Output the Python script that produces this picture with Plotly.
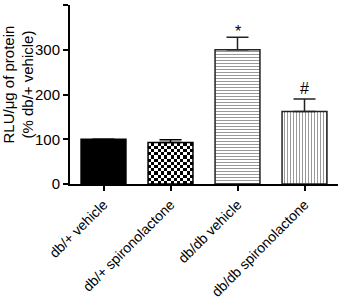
import numpy as np
import plotly.graph_objects as go

categories = ["db/+ vehicle", "db/+ spironolactone", "db/db vehicle", "db/db spironolactone"]
values = [100, 93, 300, 162]
errors = [0, 6, 28, 28]
marks = ["", "", "*", "#"]
yticks = [0, 100, 200, 300, 400]
y_title = "RLU/μg of protein<br>(% db/+ vehicle)"

idx = list(range(len(categories)))
bar_width = 0.67

fig = go.Figure()

# checkerboard fill for the second bar, built from its value and position
ci = 1
ncols, nrows = 14, 13
xe = np.linspace(idx[ci] - bar_width / 2, idx[ci] + bar_width / 2, ncols + 1)
ye = np.linspace(0, values[ci], nrows + 1)
z = [[(r + c) % 2 for c in range(ncols)] for r in range(nrows)]
fig.add_trace(go.Heatmap(x=xe, y=ye, z=z, colorscale=[[0, "white"], [1, "black"]],
                         showscale=False, hoverinfo="skip", zsmooth=False))

# solid / transparent bars
fig.add_trace(go.Bar(
    x=idx[:2], y=values[:2], width=bar_width,
    marker=dict(color=["black", "rgba(0,0,0,0)"], line=dict(color="black", width=1.5)),
    error_y=dict(type="data", symmetric=False, array=errors[:2], arrayminus=[0] * 2,
                 color="black", thickness=1.5, width=11),
))
# hatched bars
fig.add_trace(go.Bar(
    x=idx[2:], y=values[2:], width=bar_width,
    marker=dict(color="white", line=dict(color="#222222", width=1.5),
                pattern=dict(shape=["-", "|"], fgcolor="#333333", bgcolor="white",
                             size=3, solidity=0.34)),
    error_y=dict(type="data", symmetric=False, array=errors[2:], arrayminus=[0] * 2,
                 color="#222222", thickness=1.5, width=11),
))
fig.update_layout(barmode="overlay")

for i, m in enumerate(marks):
    if m:
        fig.add_annotation(x=idx[i], y=values[i] + errors[i], text=m, showarrow=False,
                           yanchor="bottom", yshift=-5 if m == "*" else 0,
                           font=dict(size=16, color="black"))

# y axis title
fig.add_annotation(text=y_title, textangle=-90, xref="paper", yref="paper",
                   x=0, y=0.5, xanchor="center", yanchor="middle",
                   xshift=-52, yshift=10, showarrow=False,
                   font=dict(size=15, color="black"))

fig.update_layout(
    width=340, height=302,
    margin=dict(l=70, r=2, t=5, b=118),
    paper_bgcolor="white", plot_bgcolor="white",
    font=dict(family="Liberation Sans, Arial", size=14, color="black"),
    showlegend=False,
    xaxis=dict(range=[-0.5, 3.5], tickvals=idx, ticktext=categories, tickangle=-45,
               showline=True, linecolor="black", linewidth=2, ticks="outside",
               ticklen=5, tickwidth=2, tickcolor="black", showgrid=False, zeroline=False,
               tickfont=dict(size=14), automargin=False),
    yaxis=dict(range=[0, 400], tickvals=yticks, showline=True, linecolor="black",
               linewidth=2, ticks="outside", ticklen=5, tickwidth=2, tickcolor="black",
               showgrid=False, zeroline=False, tickfont=dict(size=15), automargin=False),
)

fig.write_html("out.html", config={"displayModeBar": False},
               post_script="document.body.style.margin='0';")
